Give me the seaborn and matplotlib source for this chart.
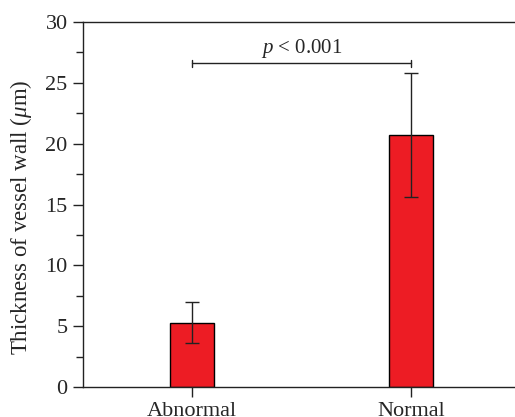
import pandas as pd
import matplotlib.pyplot as plt
import seaborn as sns
from matplotlib.ticker import MultipleLocator

# data
groups = ['Abnormal', 'Normal']
thickness = [5.3, 20.7]
err = [1.7, 5.1]
p_text = r'$p$ < 0.001'
bracket_y = 26.6

df = pd.DataFrame({'group': groups, 'thickness': thickness})

sns.set_style('ticks')
plt.rcParams['font.family'] = ['Liberation Serif', 'DejaVu Serif']
plt.rcParams['mathtext.fontset'] = 'custom'
plt.rcParams['mathtext.it'] = 'Liberation Serif:italic'
plt.rcParams['mathtext.rm'] = 'Liberation Serif'

fig = plt.figure(figsize=(5.15, 4.17), dpi=100)
ax = fig.add_axes([83 / 515, 30 / 417, (520 - 83) / 515, (387 - 22) / 417])

sns.barplot(data=df, x='group', y='thickness', color='#ED1C24', width=0.2,
            edgecolor='black', linewidth=1.0, saturation=1, errorbar=None, ax=ax)
ax.errorbar(range(len(groups)), thickness, yerr=err, fmt='none',
            ecolor='#222222', elinewidth=1.0, capsize=5, capthick=1.0)

# significance bracket
ax.plot([0, 1], [bracket_y, bracket_y], color='#222222', lw=1.0)
ax.plot([0, 0], [bracket_y - 0.3, bracket_y + 0.3], color='#222222', lw=1.0)
ax.plot([1, 1], [bracket_y - 0.3, bracket_y + 0.3], color='#222222', lw=1.0)
ax.text(0.5, bracket_y + 0.3, p_text, ha='center', va='bottom', fontsize=15)

ax.set_xlim(-0.5, 1.5)
ax.set_ylim(0, 30)
ax.yaxis.set_major_locator(MultipleLocator(5))
ax.yaxis.set_minor_locator(MultipleLocator(2.5))
ax.tick_params(axis='both', which='major', direction='out', length=7,
               width=1.0, labelsize=16, color='#222222', pad=4)
ax.tick_params(axis='y', which='minor', direction='out', length=5, width=1.0,
               color='#222222')
ax.set_xlabel('')
ax.set_ylabel(r'Thickness of vessel wall ($\mu$m)', fontsize=16.5)
ax.yaxis.set_label_coords(-0.112, 0.466)
for side in ['left', 'bottom', 'top']:
    ax.spines[side].set_linewidth(1.0)
    ax.spines[side].set_color('#222222')
ax.spines['right'].set_visible(False)

fig.savefig('out.png', dpi=100)
